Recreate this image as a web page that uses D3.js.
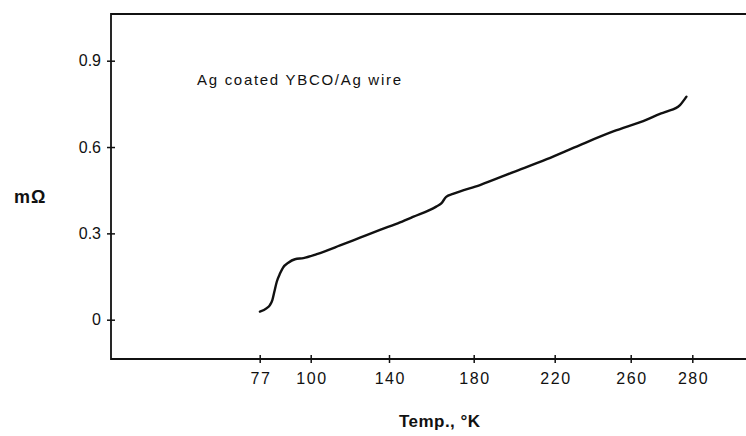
<!DOCTYPE html>
<html>
<head>
<meta charset="utf-8">
<script src="https://cdn.jsdelivr.net/npm/d3@7"></script>
<style>
  body { margin: 0; background: #fff; }
  text { font-family: "Liberation Sans", "DejaVu Sans", sans-serif; fill: #111; }
</style>
</head>
<body>
<svg width="746" height="436"></svg>
<script>
// valores
const tempTicks = [77, 100, 140, 180, 220, 260, 280];
const resTicks = [0, 0.3, 0.6, 0.9];
const temps = [77.1, 80.2, 81.6, 82.7, 83.6, 84.7, 86.2, 87.6, 89.9, 92.9, 96.7, 103.1, 115.0, 125.2, 135.4, 145.2, 151.3,
               162.3, 164.7, 167.0, 170.2, 183.1, 199.6, 216.1, 233.3, 250.8, 265.2, 269.5, 271.6, 276.0, 278.1];
const resist = [0.028, 0.040, 0.051, 0.068, 0.097, 0.132, 0.161, 0.182, 0.198, 0.210, 0.214, 0.228, 0.258, 0.285, 0.312, 0.338, 0.357,
                0.393, 0.404, 0.427, 0.437, 0.468, 0.513, 0.558, 0.607, 0.654, 0.695, 0.715, 0.723, 0.746, 0.775];

const svg = d3.select("svg"),
    width = +svg.attr("width"),
    height = +svg.attr("height");

const mLeft = 111, mTop = 14, mBottom = 359;

// escala do eixo x não é uniforme no original (marcas desenhadas à mão)
const x = d3.scaleLinear()
    .domain(tempTicks)
    .range([259.7, 310.7, 389, 473.7, 554.7, 630.7, 692.3]);

const y = d3.scaleLinear()
    .domain([0, 0.9])
    .range([319.7, 60.7]);

// moldura: eixo esquerdo, topo e base
svg.append("path")
    .attr("d", `M${width},${mTop}H${mLeft}V${mBottom}H${width}`)
    .attr("fill", "none")
    .attr("stroke", "#111")
    .attr("stroke-width", 1.8);

const gx = svg.append("g")
    .attr("transform", `translate(0,${mBottom})`)
    .call(d3.axisBottom(x).tickValues(tempTicks).tickSize(4).tickPadding(10).tickFormat(d3.format("d")));
gx.select(".domain").remove();
gx.selectAll(".tick line").attr("y1", -4).attr("stroke", "#111").attr("stroke-width", 1.5);
gx.selectAll(".tick text").attr("font-size", 16).attr("letter-spacing", 1.5).attr("dx", 0.75);

const gy = svg.append("g")
    .attr("transform", `translate(${mLeft},0)`)
    .call(d3.axisLeft(y).tickValues(resTicks).tickSize(4).tickPadding(6).tickFormat(d => d === 0 ? "0" : d3.format(".1f")(d)));
gy.select(".domain").remove();
gy.selectAll(".tick line").attr("x1", 4).attr("stroke", "#111").attr("stroke-width", 1.5);
gy.selectAll(".tick text").attr("font-size", 16);

// curva
const line = d3.line()
    .x((d, i) => x(temps[i]))
    .y(d => y(d))
    .curve(d3.curveMonotoneX);

svg.append("path")
    .datum(resist)
    .attr("d", line)
    .attr("fill", "none")
    .attr("stroke", "#111")
    .attr("stroke-width", 2.4)
    .attr("stroke-linecap", "round");

// textos
svg.append("text")
    .attr("x", 197)
    .attr("y", 85)
    .attr("font-size", 15)
    .attr("textLength", 204)
    .attr("lengthAdjust", "spacing")
    .text("Ag coated YBCO/Ag wire");

svg.append("text")
    .attr("x", 14)
    .attr("y", 203)
    .attr("font-size", 18)
    .attr("font-weight", "bold")
    .attr("letter-spacing", 1)
    .text("mΩ");

svg.append("text")
    .attr("x", 399)
    .attr("y", 427)
    .attr("font-size", 17)
    .attr("font-weight", "bold")
    .attr("textLength", 81)
    .attr("lengthAdjust", "spacing")
    .text("Temp., °K");
</script>
</body>
</html>
